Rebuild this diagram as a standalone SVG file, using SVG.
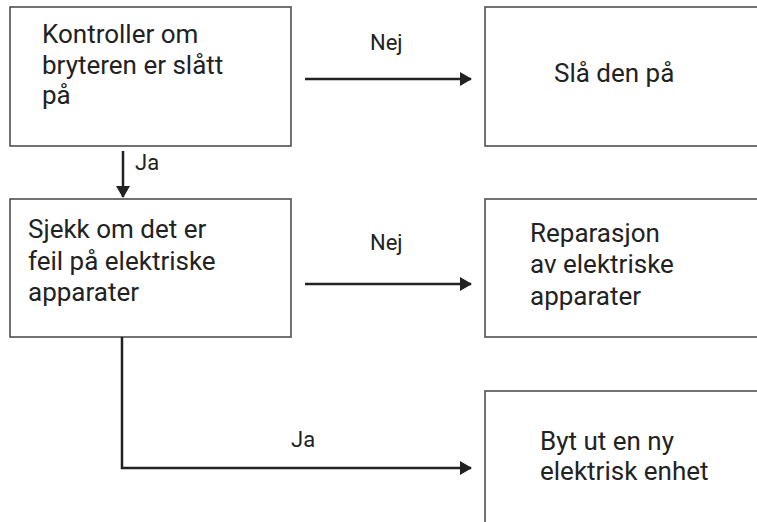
<svg xmlns="http://www.w3.org/2000/svg" width="757" height="522" viewBox="0 0 757 522">
<style>
.box{fill:#fff;stroke:#444;stroke-width:1.5}
.t{font-family:Roboto,"Liberation Sans",sans-serif;font-size:26px;fill:#222}
.l{font-family:Roboto,"Liberation Sans",sans-serif;font-size:22px;fill:#222}
.c{fill:none;stroke:#222;stroke-width:2.5}
</style>
<defs>
<marker id="ah" viewBox="0 0 12 14" refX="11" refY="7" markerWidth="12" markerHeight="14" markerUnits="userSpaceOnUse" orient="auto">
<path d="M0,0 L12,7 L0,14 z" fill="#222"/>
</marker>
</defs>
<rect width="757" height="522" fill="#fff"/>
<g id="n1"><rect class="box" x="10" y="7" width="281" height="139"/>
<text class="t" x="42" y="43">Kontroller om</text>
<text class="t" x="42" y="74">bryteren er slått</text>
<text class="t" x="42" y="104">på</text></g>
<g id="n2"><rect class="box" x="485" y="7" width="280" height="139"/>
<text class="t" x="554" y="82">Slå den på</text></g>
<g id="n3"><rect class="box" x="10" y="199" width="281" height="138"/>
<text class="t" x="28" y="238">Sjekk om det er</text>
<text class="t" x="28" y="270">feil på elektriske</text>
<text class="t" x="28" y="301">apparater</text></g>
<g id="n4"><rect class="box" x="485" y="199" width="280" height="138"/>
<text class="t" x="530" y="242">Reparasjon</text>
<text class="t" x="530" y="273">av elektriske</text>
<text class="t" x="530" y="305">apparater</text></g>
<g id="n5"><rect class="box" x="485" y="391" width="280" height="140"/>
<text class="t" x="540" y="450">Byt ut en ny</text>
<text class="t" x="540" y="480">elektrisk enhet</text></g>
<g id="connectors">
<path class="c" d="M123,151 V197" marker-end="url(#ah)"/>
<text class="l" x="135" y="170">Ja</text>
<path class="c" d="M305,79 H471" marker-end="url(#ah)"/>
<text class="l" x="370" y="50">Nej</text>
<path class="c" d="M305,284 H471" marker-end="url(#ah)"/>
<text class="l" x="370" y="250">Nej</text>
<path class="c" d="M122,337 V468 H471" marker-end="url(#ah)"/>
<text class="l" x="291" y="447">Ja</text>
</g>
</svg>
